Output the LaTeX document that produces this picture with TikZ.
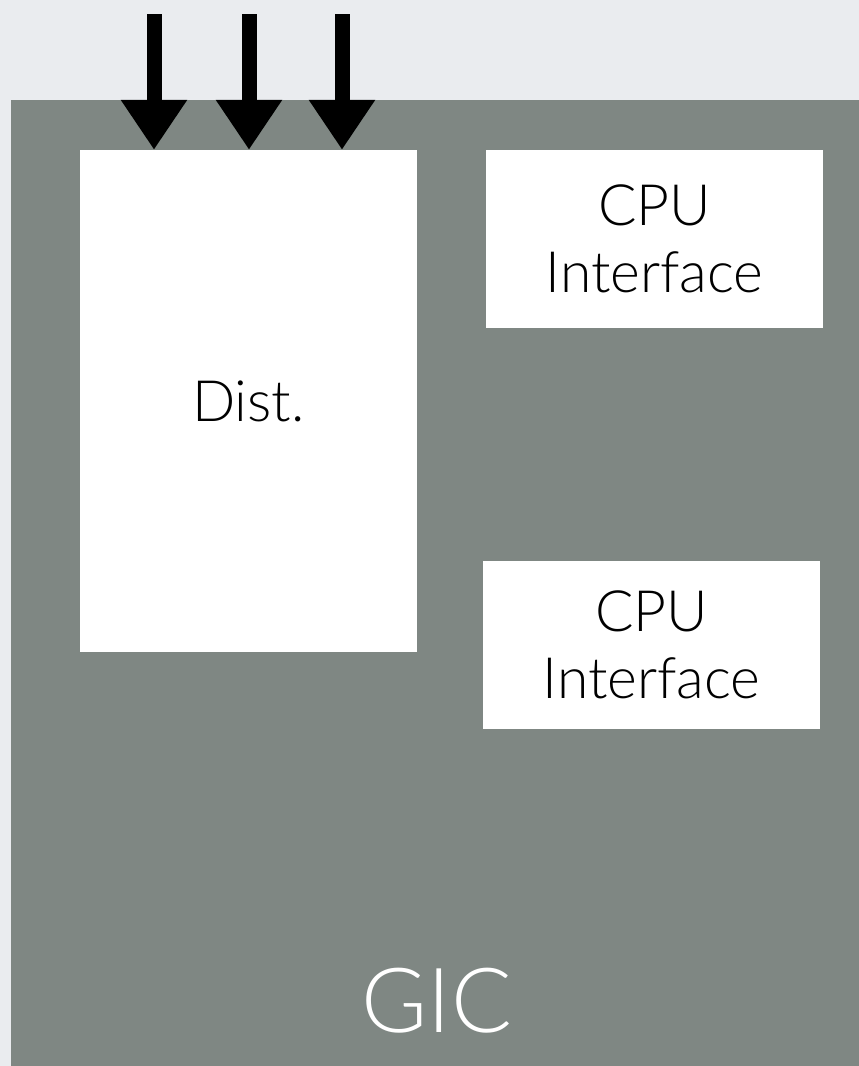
\documentclass[tikz,border=0pt]{standalone}
\usepackage{fontspec}
\setmainfont{Lato Light}
\usetikzlibrary{arrows.meta}
\definecolor{pagebg}{HTML}{EAECEF}
\definecolor{gicgray}{HTML}{7F8783}
\tikzset{
  unitbox/.style={fill=white, draw=none, inner sep=0pt, align=center,
    font=\fontsize{57}{67}\selectfont},
  irq/.style={line width=15pt, -{Triangle[length=50pt, width=63pt]}},
}
\begin{document}
\begin{tikzpicture}[x=1pt, y=-1pt]
  % page and GIC block
  \fill[pagebg] (0,0) rectangle (859,1066);
  \useasboundingbox (0,0) rectangle (859,1066);
  \fill[gicgray] (11,100) rectangle (859,1066);
  \node[text=white, font=\fontsize{90}{90}\selectfont, inner sep=0pt] (gic) at (437,1001) {GIC};

  % distributor and CPU interfaces
  \node[unitbox, minimum width=337pt, minimum height=502pt] (dist) at (248.5,401) {Dist.};
  \node[unitbox, minimum width=337pt, minimum height=178pt] (cpuA) at (654.5,239) {CPU\\Interface};
  \node[unitbox, minimum width=337pt, minimum height=168pt] (cpuB) at (651.5,645) {CPU\\Interface};

  % interrupt inputs into the distributor
  \coordinate (inA) at (154,14);
  \coordinate (inB) at (249,14);
  \coordinate (inC) at (342,14);
  \draw[irq] (inA) -- (inA |- dist.north);
  \draw[irq] (inB) -- (inB |- dist.north);
  \draw[irq] (inC) -- (inC |- dist.north);
\end{tikzpicture}
\end{document}
